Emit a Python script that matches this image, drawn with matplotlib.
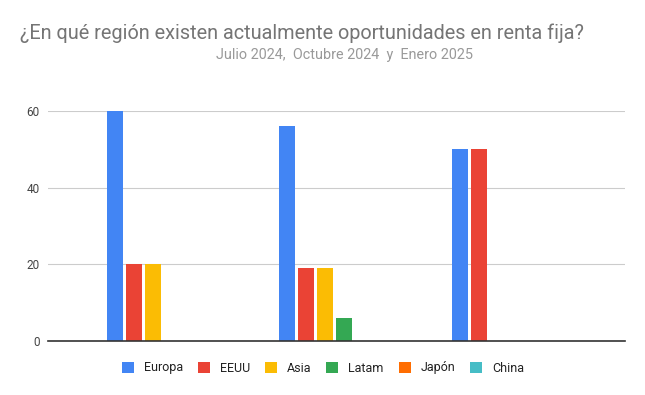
import matplotlib
matplotlib.use("Agg")
import matplotlib.pyplot as plt
import numpy as np
from matplotlib.patches import Patch

plt.rcParams['font.family'] = ['Roboto', 'DejaVu Sans']

periods = ["Julio 2024", "Octubre 2024", "Enero 2025"]
series = ["Europa", "EEUU", "Asia", "Latam", "Japón", "China"]
europa = [60, 56, 50]
eeuu = [20, 19, 50]
asia = [20, 19, 0]
latam = [0, 6, 0]
japon = [0, 0, 0]
china = [0, 0, 0]
values = [europa, eeuu, asia, latam, japon, china]
colors = ["#4285F4", "#EA4335", "#FBBC04", "#34A853", "#FF6D01", "#46BDC6"]
yticks = [0, 20, 40, 60]

fig = plt.figure(figsize=(6.45, 3.95), dpi=100)
ax = fig.add_axes([0.0744, 0.137, 0.8946, 0.582])

x = np.arange(len(periods))
slot = 0.11
width = 0.092
for i, (vals, c) in enumerate(zip(values, colors)):
    ax.bar(x - 0.33 + i * slot + width / 2, vals, width=width, color=c, linewidth=0)

ax.set_xlim(-0.67, 2.67)
ax.set_ylim(0, 60)
ax.set_yticks(yticks)
ax.set_yticklabels([str(v) for v in yticks])
ax.set_xticks([])
ax.tick_params(axis='y', length=0, labelsize=8.5, labelcolor="#444444", pad=6)
ax.grid(axis='y', color="#cccccc", linewidth=0.8)
ax.set_axisbelow(True)
for s in ['top', 'right', 'left']:
    ax.spines[s].set_visible(False)
ax.spines['bottom'].set_color("#333333")
ax.spines['bottom'].set_linewidth(1.2)
ax.spines['bottom'].set_zorder(5)

fig.text(20 / 645, 1 - 33 / 395, "¿En qué región existen actualmente oportunidades en renta fija?",
         fontsize=14.3, color="#757575", va='center', ha='left')
fig.text(345 / 645, 1 - 55 / 395, "Julio 2024,  Octubre 2024  y  Enero 2025",
         fontsize=10.4, color="#999999", va='center', ha='center')

handles = [Patch(facecolor=c, edgecolor='none') for c in colors]
fig.legend(handles, series, loc='center', bbox_to_anchor=(323 / 645, 1 - 368 / 395), ncol=6,
           frameon=False, fontsize=9, handlelength=0.95, handleheight=1.0,
           handletextpad=0.8, columnspacing=1.2, labelcolor="#222222")

fig.savefig("out.png", dpi=100)
